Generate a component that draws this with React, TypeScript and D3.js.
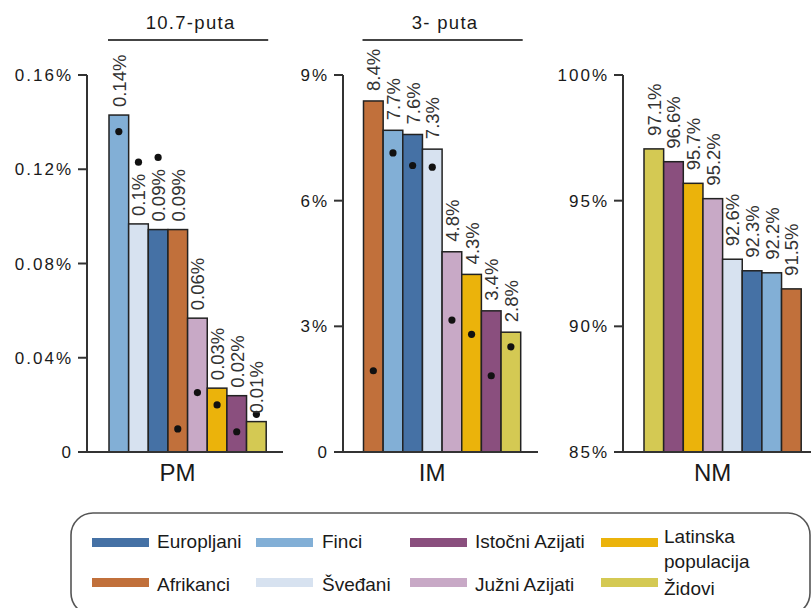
import React from "react";
import * as d3 from "d3";

const colorOf: Record<string, string> = {
  "Europljani": "#4571a5",
  "Finci": "#82afd6",
  "Istočni Azijati": "#8a4f7e",
  "Latinska populacija": "#ebb30b",
  "Afrikanci": "#c1703b",
  "Šveđani": "#d7e2f0",
  "Južni Azijati": "#c8a9c6",
  "Židovi": "#d4c953",
};

const pmOrder = ["Finci", "Šveđani", "Europljani", "Afrikanci", "Južni Azijati", "Latinska populacija", "Istočni Azijati", "Židovi"];
const pmValues = [0.143, 0.0968, 0.0944, 0.0944, 0.0568, 0.0271, 0.0239, 0.0129];
const pmLabels = ["0.14%", "0.1%", "0.09%", "0.09%", "0.06%", "0.03%", "0.02%", "0.01%"];
const pmDots = [0.136, 0.123, 0.125, 0.0098, 0.0252, 0.02, 0.0086, 0.016];
const pmTicks = [0, 0.04, 0.08, 0.12, 0.16];
const pmTickLabels = ["0", "0.04%", "0.08%", "0.12%", "0.16%"];

const imOrder = ["Afrikanci", "Finci", "Europljani", "Šveđani", "Južni Azijati", "Latinska populacija", "Istočni Azijati", "Židovi"];
const imValues = [8.38, 7.68, 7.58, 7.23, 4.78, 4.24, 3.37, 2.86];
const imLabels = ["8.4%", "7.7%", "7.6%", "7.3%", "4.8%", "4.3%", "3.4%", "2.8%"];
const imDots = [1.94, 7.14, 6.84, 6.8, 3.15, 2.81, 1.82, 2.51];
const imTicks = [0, 3, 6, 9];
const imTickLabels = ["0", "3%", "6%", "9%"];

const nmOrder = ["Židovi", "Istočni Azijati", "Latinska populacija", "Južni Azijati", "Šveđani", "Europljani", "Finci", "Afrikanci"];
const nmValues = [97.06, 96.55, 95.69, 95.08, 92.67, 92.21, 92.13, 91.49];
const nmLabels = ["97.1%", "96.6%", "95.7%", "95.2%", "92.6%", "92.3%", "92.2%", "91.5%"];
const nmTicks = [85, 90, 95, 100];
const nmTickLabels = ["85%", "90%", "95%", "100%"];

const legendCols = [
  ["Europljani", "Afrikanci"],
  ["Finci", "Šveđani"],
  ["Istočni Azijati", "Južni Azijati"],
  ["Latinska populacija", "Židovi"],
];

const FONT = "'Liberation Sans', Arial, Helvetica, sans-serif";
const TOP = 75;
const BOTTOM = 452;

type PanelProps = {
  order: string[];
  values: number[];
  labels: string[];
  dots?: number[];
  domain: [number, number];
  ticks: number[];
  tickLabels: string[];
  axisX: number;
  barStart: number;
  baseEnd: number;
  name: string;
  title?: string;
  gap: number;
};

function Panel(p: PanelProps) {
  const y = d3.scaleLinear().domain(p.domain).range([BOTTOM, TOP]);
  const x = d3.scaleBand<string>().domain(p.order).range([p.barStart, p.barStart + 8 * 19.65]).padding(0);
  const bw = x.bandwidth();
  const x0 = p.barStart;
  const x1 = p.barStart + 8 * 19.65;
  return (
    <g>
      {p.title && (
        <g>
          <text x={(x0 + x1) / 2 + 3} y={29} textAnchor="middle" fontSize={18.5} letterSpacing={1.3} fill="#1a1a1a" fontFamily={FONT}>
            {p.title}
          </text>
          <line x1={x0 - 1} x2={x1 + 2} y1={40} y2={40} stroke="#444" strokeWidth={2} />
        </g>
      )}
      {p.order.map((k, i) => (
        <rect key={k} x={x(k)} y={y(p.values[i])} width={bw} height={BOTTOM - y(p.values[i])} fill={colorOf[k]} stroke="#222" strokeWidth={1.5} />
      ))}
      {p.dots && p.order.map((k, i) => (
        <circle key={"d" + k} cx={(x(k) as number) + bw / 2} cy={y(p.dots![i])} r={3.6} fill="#111" />
      ))}
      {p.order.map((k, i) => {
        const cx = (x(k) as number) + bw / 2 + 7;
        const cy = y(p.values[i]) - p.gap;
        return (
          <text key={"l" + k} transform={`translate(${cx},${cy}) rotate(-90)`} fontSize={18.5} fill="#333" fontFamily={FONT}>
            {p.labels[i]}
          </text>
        );
      })}
      <line x1={p.axisX} x2={p.axisX} y1={TOP} y2={BOTTOM} stroke="#333" strokeWidth={2} />
      <line x1={p.axisX} x2={p.baseEnd} y1={BOTTOM} y2={BOTTOM} stroke="#333" strokeWidth={2} />
      {p.ticks.map((t, i) => (
        <g key={"t" + t}>
          <line x1={p.axisX - 9} x2={p.axisX} y1={y(t)} y2={y(t)} stroke="#333" strokeWidth={2} />
          <text x={p.axisX - 14} y={y(t) + 6} textAnchor="end" fontSize={17} letterSpacing={2} fill="#1a1a1a" fontFamily={FONT}>
            {p.tickLabels[i]}
          </text>
        </g>
      ))}
      <text x={(x0 + x1) / 2 - 10} y={481} textAnchor="middle" fontSize={24} fill="#1a1a1a" fontFamily={FONT}>
        {p.name}
      </text>
    </g>
  );
}

export default function App() {
  const swX = [92, 256, 410, 601];
  const txX = [157, 322, 475, 664];
  return (
    <svg width={811} height={608} style={{ position: "absolute", left: 0, top: 0, background: "#fff" }} fontFamily={FONT}>
      <Panel order={pmOrder} values={pmValues} labels={pmLabels} dots={pmDots} domain={[0, 0.16]} ticks={pmTicks} tickLabels={pmTickLabels}
        axisX={87} barStart={109} baseEnd={283} name="PM" title="10.7-puta" gap={8} />
      <Panel order={imOrder} values={imValues} labels={imLabels} dots={imDots} domain={[0, 9]} ticks={imTicks} tickLabels={imTickLabels}
        axisX={343} barStart={363.5} baseEnd={538} name="IM" title="3- puta" gap={10} />
      <Panel order={nmOrder} values={nmValues} labels={nmLabels} domain={[85, 100]} ticks={nmTicks} tickLabels={nmTickLabels}
        axisX={623} barStart={644} baseEnd={811} name="NM" gap={13} />
      <rect x={71} y={513} width={739} height={102} rx={22} ry={22} fill="none" stroke="#555" strokeWidth={1.6} />
      {legendCols.map((col, ci) =>
        col.map((k, ri) => {
          const sy = ri === 0 ? 538 : 578;
          return (
            <g key={k}>
              <rect x={swX[ci]} y={sy} width={57} height={9} fill={colorOf[k]} />
              {k === "Latinska populacija" ? (
                <text x={txX[ci]} y={543} fontSize={19} fill="#1a1a1a" fontFamily={FONT}>
                  <tspan x={txX[ci]}>Latinska</tspan>
                  <tspan x={txX[ci]} dy={25}>populacija</tspan>
                </text>
              ) : (
                <text x={txX[ci]} y={ri === 0 ? 548 : (k === "Židovi" ? 595 : 591)} fontSize={19} fill="#1a1a1a" fontFamily={FONT}>
                  {k}
                </text>
              )}
            </g>
          );
        })
      )}
    </svg>
  );
}
